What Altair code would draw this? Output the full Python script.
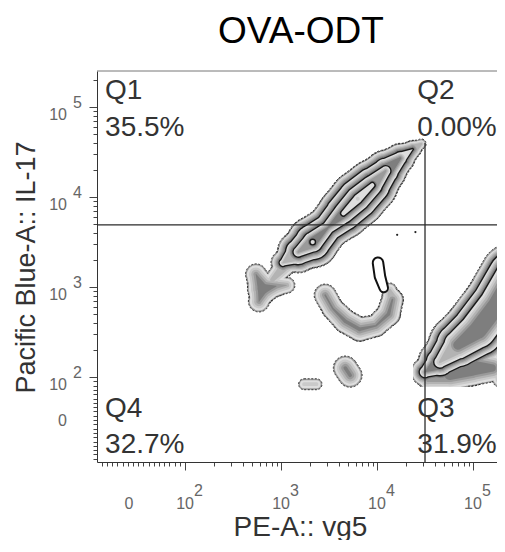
import math
import altair as alt
import pandas as pd

FONT = "Liberation Sans"

# ---- axis geometry, in display decades (biexponential display) ----
X_MIN, X_MAX = 1.083, 5.250
Y_MIN, Y_MAX = 1.056, 5.400
X_ZERO, Y_ZERO = 1.458, 1.522

x_tick_pos = [X_ZERO, 2, 3, 4, 5]
x_tick_base = ["0", "10", "10", "10", "10"]
x_tick_pow = ["", "2", "3", "4", "5"]
y_tick_pos = [Y_ZERO, 2, 3, 4, 5]
y_tick_base = ["0", "10", "10", "10", "10"]
y_tick_pow = ["", "2", "3", "4", "5"]

# ---- gates ----
GATE_X = 4.50
GATE_Y = 3.69
GATE_X_TOP = 4.60

# ---- quadrant annotations ----
quad_names = ["Q1", "Q2", "Q3", "Q4"]
quad_pcts = ["35.5%", "0.00%", "31.9%", "32.7%"]
quad_x = [1.167, 4.42, 4.42, 1.167]
quad_name_y = [5.089, 5.089, 1.556, 1.556]
quad_pct_y = [4.678, 4.678, 1.156, 1.156]

# ---- populations: ridge points (x, y in decades) and half-width (decades) ----
main_x = [3.02, 3.18, 3.33, 3.49, 3.65, 3.80, 3.95, 4.09, 4.24, 4.37, 4.46]
main_y = [3.27, 3.39, 3.50, 3.66, 3.82, 3.98, 4.13, 4.29, 4.43, 4.53, 4.59]
main_r = [0.125, 0.219, 0.271, 0.23, 0.271, 0.292, 0.271, 0.219, 0.156, 0.094, 0.052]

b1_x = [2.74, 2.81, 2.77]
b1_y = [3.14, 2.98, 2.84]
b1_r = [0.11, 0.16, 0.11]
b2_x = [2.81, 2.95, 3.06]
b2_y = [2.98, 3.01, 3.02]
b2_r = [0.16, 0.11, 0.085]
b3_x = [2.91, 3.02, 3.12]
b3_y = [3.08, 3.21, 3.32]
b3_r = [0.083, 0.104, 0.125]

c_x = [3.46, 3.54, 3.67, 3.82, 3.99, 4.12, 4.16, 4.13]
c_y = [2.91, 2.76, 2.62, 2.53, 2.57, 2.70, 2.86, 2.96]
c_r = [0.115, 0.115, 0.125, 0.125, 0.115, 0.125, 0.115, 0.08]

loop_x = [4.01, 4.03, 4.07]
loop_y = [3.27, 3.12, 2.99]
loop_r = [0.065, 0.065, 0.055]

d_x = [3.67, 3.72]
d_y = [2.10, 2.02]
d_r = [0.125, 0.125]

e_x = [3.24, 3.37]
e_y = [1.92, 1.92]
e_r = [0.057, 0.057]

f1_x = [4.50, 4.656, 4.844, 5.052, 5.25, 5.406]
f1_y = [2.056, 2.167, 2.356, 2.522, 2.80, 3.133]
f1_r = [0.146, 0.229, 0.3125, 0.354, 0.354, 0.333]
f2_x = [4.531, 4.760, 4.990, 5.198]
f2_y = [1.967, 2.033, 2.100, 2.100]
f2_r = [0.104, 0.167, 0.1875, 0.146]
f3_x = [5.30, 5.41]
f3_y = [1.99, 2.13]
f3_r = [0.104, 0.167]

dots_x = [4.21, 4.40]
dots_y = [3.58, 3.61]

# display cut of the Q3 population
mask_x = [4.24, 4.375]
mask_x2 = [4.375, X_MAX]
mask_y = [Y_MIN, Y_MIN]
mask_y2 = [2.40, 1.889]

SEGMENTS = [
    ("main", main_x, main_y, main_r, 4),
    ("b1", b1_x, b1_y, b1_r, 1),
    ("b2", b2_x, b2_y, b2_r, 1),
    ("b3", b3_x, b3_y, b3_r, 1),
    ("c", c_x, c_y, c_r, 1),
    ("d", d_x, d_y, d_r, 1),
    ("e", e_x, e_y, e_r, 1),
    ("f2", f2_x, f2_y, f2_r, 1),
    ("f3", f3_x, f3_y, f3_r, 1),
    ("f1", f1_x, f1_y, f1_r, 3),
]

PX = 96.0                 # pixels per decade (size scale)
S = 7.5 / PX              # spacing between contour levels
LINE = 1.4 / PX           # contour line width
LAST_STEP = 2.2 / PX
BAND = ["#dedede", "#cacaca", "#b3b3b3", "#9a9a9a", "#7e7e7e"]
OUTLINE = ["#9a9a9a", "#1a1a1a", "#1a1a1a", "#1a1a1a"]

rows = []
layer_color = {}
for name, xs, ys, rs, nlev in SEGMENTS:
    for k in range(nlev):
        last = k == nlev - 1
        step = LAST_STEP if last else (S - LINE) / len(BAND)
        subs = [(0.0, OUTLINE[k])] + [(LINE + j * step, c) for j, c in enumerate(BAND)]
        for s, (off, col) in enumerate(subs):
            L = k * (len(BAND) + 1) + s
            layer_color[L] = col
            ws = [2 * (r - k * S - off) for r in rs]
            runs, run = [], []
            for i, w in enumerate(ws):
                if w > 0:
                    run.append(i)
                elif run:
                    runs.append(run)
                    run = []
            if run:
                runs.append(run)
            for ri, rn in enumerate(runs):
                idx = rn if len(rn) > 1 else rn * 2
                for o, i in enumerate(idx):
                    rows.append(dict(L=L, id=f"{name}-{L}-{ri}", o=o, x=xs[i], y=ys[i], w=ws[i]))
blobs = pd.DataFrame(rows)

# ---- scales & axes ----
x_minor = [j + math.log10(k) for j in (2, 3, 4) for k in range(2, 10)]
x_lin = [X_ZERO + v / 100 * (2 - X_ZERO) for v in (10, 20, 30, 40, 50, 60, 70, 80, 90, -10, -20, -30, -40, -50, -60)]
y_minor = [j + math.log10(k) for j in (2, 3, 4) for k in range(2, 10)] + [5 + math.log10(2)]
y_lin = [Y_ZERO + v / 100 * (2 - Y_ZERO) for v in (10, 20, 30, 40, 50, 60, 70, 80, 90, -10, -20, -30, -40, -50, -60, -70, -80, -90)]
x_ticks = sorted(set([round(v, 4) for v in x_tick_pos + x_minor + x_lin if X_MIN <= v <= X_MAX]))
y_ticks = sorted(set([round(v, 4) for v in y_tick_pos + y_minor + y_lin if Y_MIN <= v <= Y_MAX]))

TICKSIZE = {"condition": {"test": "datum.value % 1 === 0", "value": 8}, "value": 4}

XS = alt.Scale(domain=[X_MIN, X_MAX], nice=False, zero=False)
YS = alt.Scale(domain=[Y_MIN, Y_MAX], nice=False, zero=False)
XAXIS = alt.Axis(values=x_ticks, labels=False, grid=False, tickSize=TICKSIZE, tickColor="#444",
                 domainColor="#333", title="PE-A:: vg5", titleFont=FONT, titleFontSize=28,
                 titleFontWeight="normal", titleColor="#333", titleX=203, titleY=73,
                 titleBaseline="alphabetic", titleAlign="center")
YAXIS = alt.Axis(values=y_ticks, labels=False, grid=False, tickSize=TICKSIZE, tickColor="#444",
                 domainColor="#333", title="Pacific Blue-A:: IL-17", titleFont=FONT, titleFontSize=27,
                 titleFontWeight="normal", titleColor="#333", titleX=-63, titleY=196, titleAngle=270,
                 titleBaseline="alphabetic", titleAlign="center")


def X(f):
    return alt.X(f, type="quantitative", scale=XS, axis=XAXIS)


def Y(f):
    return alt.Y(f, type="quantitative", scale=YS, axis=YAXIS)


SIZE = alt.Scale(domain=[0, 1], range=[0, PX])

layers = []
for L in sorted(layer_color):
    base = alt.Chart(blobs).transform_filter(alt.datum.L == L)
    enc = dict(x=X("x"), y=Y("y"), size=alt.Size("w:Q", scale=SIZE, legend=None),
               detail="id:N", order="o:Q")
    if L == 0:
        m = base.mark_trail(clip=True, fill=layer_color[L], stroke="#2a2a2a", strokeWidth=0.9,
                            strokeDash=[2, 1.6])
    else:
        m = base.mark_trail(clip=True, fill=layer_color[L])
    layers.append(m.encode(**enc))

loop_df = pd.DataFrame({"x": loop_x, "y": loop_y, "r": loop_r, "o": list(range(len(loop_x)))})
loop_df["w1"] = loop_df["r"] * 2
loop_df["w2"] = loop_df["r"] * 2 - 4.0 / PX
for fld, col in (("w1", "#111"), ("w2", "#ffffff")):
    layers.append(
        alt.Chart(loop_df).mark_trail(fill=col).encode(
            x=X("x"), y=Y("y"), size=alt.Size(f"{fld}:Q", scale=SIZE, legend=None), order="o:Q",
        )
    )

dots = pd.DataFrame({"x": dots_x, "y": dots_y})
layers.append(alt.Chart(dots).mark_circle(size=5, color="#222", opacity=1).encode(x=X("x"), y=Y("y")))

masks = pd.DataFrame({"x": mask_x, "x2": mask_x2, "y": mask_y, "y2": mask_y2})
layers.append(alt.Chart(masks).mark_rect(color="white").encode(x=X("x"), x2="x2", y=Y("y"), y2="y2"))

gates_v = pd.DataFrame({"x": [GATE_X], "y": [Y_MIN], "y2": [GATE_X_TOP]})
gates_h = pd.DataFrame({"x": [X_MIN], "x2": [X_MAX], "y": [GATE_Y]})
layers.append(alt.Chart(gates_v).mark_rule(color="#2a2a2a", strokeWidth=1.3).encode(x=X("x"), y=Y("y"), y2="y2"))
layers.append(alt.Chart(gates_h).mark_rule(color="#2a2a2a", strokeWidth=1.3).encode(x=X("x"), x2="x2", y=Y("y")))

frame_top = pd.DataFrame({"x": [X_MIN], "x2": [X_MAX], "y": [Y_MAX]})
layers.append(alt.Chart(frame_top).mark_rule(color="#777", strokeWidth=1).encode(x=X("x"), x2="x2", y=Y("y")))

quads = pd.DataFrame({"name": quad_names, "pct": quad_pcts, "x": quad_x, "yn": quad_name_y, "yp": quad_pct_y})
layers.append(alt.Chart(quads).mark_text(align="left", baseline="alphabetic", font=FONT, fontSize=28,
                                         color="#333").encode(x=X("x"), y=Y("yn"), text="name:N"))
layers.append(alt.Chart(quads).mark_text(align="left", baseline="alphabetic", font=FONT, fontSize=28,
                                         color="#333").encode(x=X("x"), y=Y("yp"), text="pct:N"))

xl = pd.DataFrame({"x": x_tick_pos, "base": x_tick_base, "pow": x_tick_pow, "y": [Y_MIN] * 5})
yl = pd.DataFrame({"y": y_tick_pos, "base": y_tick_base, "pow": y_tick_pow, "x": [X_MIN] * 5})
LBL = dict(font=FONT, fontSize=16, color="#666", baseline="alphabetic")
layers.append(alt.Chart(xl).transform_filter(alt.datum.base == "10").mark_text(align="center", dy=47, **LBL)
              .encode(x=X("x"), y=Y("y"), text="base:N"))
layers.append(alt.Chart(xl).transform_filter(alt.datum.base == "0").mark_text(align="center", dx=-4, dy=47, **LBL)
              .encode(x=X("x"), y=Y("y"), text="base:N"))
layers.append(alt.Chart(xl).mark_text(align="left", dx=9, dy=34, **LBL).encode(x=X("x"), y=Y("y"), text="pow:N"))
layers.append(alt.Chart(yl).transform_filter(alt.datum.base == "10").mark_text(align="right", dx=-30, dy=13, **LBL)
              .encode(x=X("x"), y=Y("y"), text="base:N"))
layers.append(alt.Chart(yl).transform_filter(alt.datum.base == "0").mark_text(align="right", dx=-30, dy=6, **LBL)
              .encode(x=X("x"), y=Y("y"), text="base:N"))
layers.append(alt.Chart(yl).mark_text(align="left", dx=-24, dy=1, **LBL).encode(x=X("x"), y=Y("y"), text="pow:N"))

chart = alt.layer(*layers).properties(
    width=400, height=391,
    title=alt.TitleParams("OVA-ODT", font=FONT, fontSize=37, fontWeight="normal", color="#000",
                          anchor="middle", offset=-9, dx=4, baseline="alphabetic"),
    autosize=alt.AutoSizeParams(type="none"),
    padding={"left": 89, "top": 63, "right": 0, "bottom": 78},
).configure_view(stroke=None)

chart.save("out.html", embed_options={"renderer": "svg", "actions": False})
